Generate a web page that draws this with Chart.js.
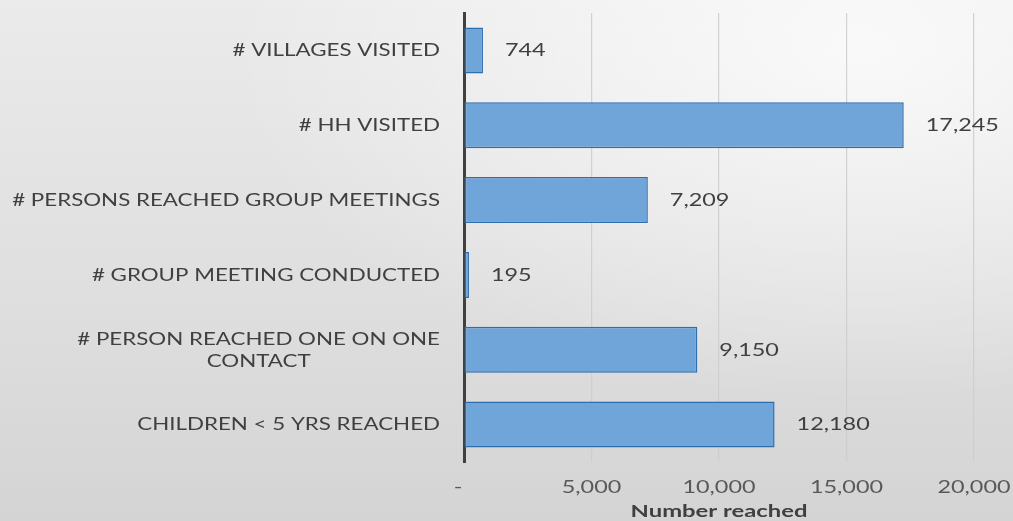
<!DOCTYPE html>
<html>
<head>
<meta charset="utf-8">
<script src="https://cdn.jsdelivr.net/npm/chart.js@4"></script>
<style>
html,body{margin:0;padding:0;}
body{width:1013px;height:521px;overflow:hidden;
background:
 radial-gradient(ellipse 900px 500px at 85% 10%, rgba(255,255,255,0.75), rgba(255,255,255,0) 70%),
 linear-gradient(to bottom, #ebebeb 0%, #dedede 60%, #d4d4d4 100%);}
#wrap{position:relative;width:1013px;height:521px;}
</style>
</head>
<body>
<div id="wrap"><canvas id="c"></canvas></div>
<script>
const categories = [
  "# VILLAGES VISITED",
  "# HH VISITED",
  "# PERSONS REACHED GROUP MEETINGS",
  "# GROUP MEETING CONDUCTED",
  ["# PERSON REACHED ONE ON ONE", "CONTACT"],
  "CHILDREN < 5 YRS REACHED"
];
const values = [744, 17245, 7209, 195, 9150, 12180];
const xTicks = [0, 5000, 10000, 15000, 20000];
const xTitle = "Number reached";

const FONT = "Lato, 'Open Sans', sans-serif";
const fmt = v => v === 0 ? "-" : v.toLocaleString("en-US");

function drawText(ctx, text, x, y, align, sx) {
  ctx.save();
  ctx.translate(x, y);
  ctx.scale(sx, 1);
  ctx.textAlign = align;
  ctx.fillText(text, 0, 0);
  ctx.restore();
}

const labelPlugin = {
  id: 'customLabels',
  afterDatasetsDraw(chart) {
    const ctx = chart.ctx;
    const meta = chart.getDatasetMeta(0);
    const ca = chart.chartArea;
    ctx.save();
    ctx.textBaseline = "middle";
    // value labels
    ctx.font = "18px " + FONT;
    ctx.fillStyle = "#404040";
    meta.data.forEach((bar, i) => {
      drawText(ctx, values[i].toLocaleString("en-US"), bar.x + 22, bar.y, "left", 1.3);
    });
    // category labels
    const ys = chart.scales.y;
    const SXC = 1.24;
    const right = ca.left - 24;
    ctx.font = "18px " + FONT;
    ctx.fillStyle = "#404040";
    categories.forEach((lab, i) => {
      const y = ys.getPixelForTick(i);
      const lines = Array.isArray(lab) ? lab : [lab];
      const w = Math.max(...lines.map(l => ctx.measureText(l).width)) * SXC;
      const cx = right - w / 2;
      const lh = 22;
      const y0 = y - (lines.length - 1) * lh / 2;
      lines.forEach((l, k) => drawText(ctx, l, cx, y0 + k * lh, "center", SXC));
    });
    // x tick labels
    const xs = chart.scales.x;
    ctx.font = "18px " + FONT;
    ctx.fillStyle = "#595959";
    xTicks.forEach(v => {
      const x = xs.getPixelForValue(v);
      drawText(ctx, fmt(v), v === 0 ? x - 6 : x, ca.bottom + 25, "center", 1.3);
    });
    // axis title
    ctx.font = "bold 17px " + FONT;
    ctx.fillStyle = "#404040";
    drawText(ctx, xTitle, (ca.left + ca.right) / 2, ca.bottom + 50, "center", 1.4);
    ctx.restore();
  }
};

new Chart(document.getElementById('c'), {
  type: 'bar',
  data: {
    labels: categories,
    datasets: [{
      data: values,
      backgroundColor: '#6fa5d9',
      borderColor: '#2f6eae',
      borderWidth: 1.5,
      borderSkipped: false,
      barPercentage: 0.615,
      categoryPercentage: 1
    }]
  },
  options: {
    indexAxis: 'y',
    responsive: true,
    maintainAspectRatio: false,
    animation: false,
    layout: { padding: { top: 13, right: 39, left: 0, bottom: 59 } },
    plugins: { legend: { display: false }, tooltip: { enabled: false } },
    scales: {
      x: {
        min: 0, max: 20000,
        afterBuildTicks: s => { s.ticks = xTicks.map(v => ({ value: v })); },
        ticks: { display: false },
        grid: {
          color: ctx => ctx.tick && ctx.tick.value === 0 ? 'rgba(0,0,0,0)' : 'rgba(205,205,205,0.9)',
          lineWidth: 1.2,
          drawTicks: false
        },
        border: { display: false },
        title: { display: false }
      },
      y: {
        ticks: { display: false },
        grid: { display: false, drawTicks: false },
        border: { display: true, color: '#404040', width: 3 },
        afterFit: s => { s.width = 464; }
      }
    }
  },
  plugins: [labelPlugin]
});
</script>
</body>
</html>
